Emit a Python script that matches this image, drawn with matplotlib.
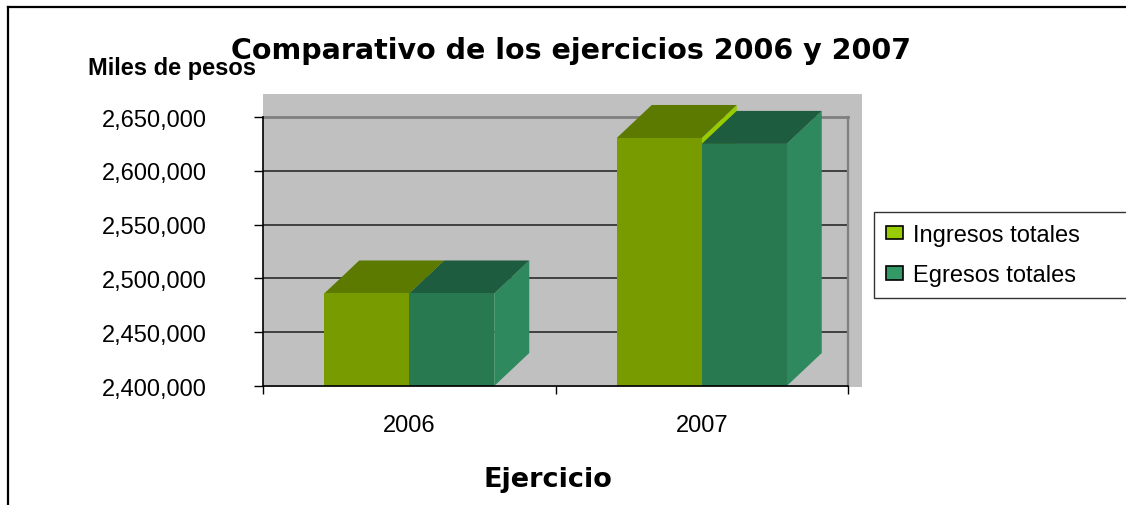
import matplotlib
matplotlib.use("Agg")
import matplotlib.pyplot as plt
from matplotlib.patches import Polygon, Rectangle, Patch
from matplotlib.lines import Line2D
from matplotlib.ticker import FuncFormatter

# ---- data ----
categories = ['2006', '2007']
series_names = ['Ingresos totales', 'Egresos totales']
ingresos = [2486000, 2630500]
egresos = [2486000, 2625000]
y_ticks = [2400000, 2450000, 2500000, 2550000, 2600000, 2650000]

# ---- styles ----
W, H = 1126, 506
ARIAL = 'Liberation Sans'
colors = {
    'Ingresos totales': dict(front='#789C00', top='#5C7A00', side='#99CC00', legend='#99CC00'),
    'Egresos totales': dict(front='#287850', top='#1E5C3F', side='#2E8A5E', legend='#339966'),
}

fig = plt.figure(figsize=(W / 100, H / 100), dpi=100)
fig.patch.set_facecolor('white')

def fx(px):
    return px / W

def fy(py):
    return 1 - py / H

# grey wall background
fig.add_artist(Rectangle((fx(263), fy(388)), fx(862) - fx(263), fy(95) - fy(388),
                         transform=fig.transFigure, facecolor='#C0C0C0',
                         edgecolor='none', zorder=0))

# outer frame (cropped at right/bottom)
fig.add_artist(Line2D([fx(8), fx(8)], [fy(8), 0], transform=fig.transFigure,
                      color='black', lw=1.6, zorder=1))
fig.add_artist(Line2D([fx(8), 1], [fy(8), fy(8)], transform=fig.transFigure,
                      color='black', lw=1.6, zorder=1))

ax = fig.add_axes([fx(263), fy(387), fx(848) - fx(263), fy(118) - fy(387)])
ax.set_facecolor('none')
ax.set_zorder(2)

ymin, ymax = y_ticks[0], y_ticks[-1]
ax.set_xlim(-0.5, len(categories) - 0.5)
ax.set_ylim(ymin, ymax)

# depth offset in data units (35 px right, 33 px up)
ax_w_px = 848 - 263
ax_h_px = 387 - 118
dx = 35 / ax_w_px * len(categories)
dy = 33 / ax_h_px * (ymax - ymin)
bar_w = 85 / ax_w_px * len(categories)

def draw_bar(x0, value, c):
    x1 = x0 + bar_w
    base = ymin
    side = Polygon([(x1, base), (x1, value), (x1 + dx, value + dy), (x1 + dx, base + dy)],
                   closed=True, facecolor=c['side'], edgecolor='none', zorder=3, clip_on=False)
    top = Polygon([(x0, value), (x1, value), (x1 + dx, value + dy), (x0 + dx, value + dy)],
                  closed=True, facecolor=c['top'], edgecolor='none', zorder=3, clip_on=False)
    front = Polygon([(x0, base), (x1, base), (x1, value), (x0, value)],
                    closed=True, facecolor=c['front'], edgecolor='none', zorder=3, clip_on=False)
    for p in (side, top, front):
        ax.add_patch(p)

for i, cat in enumerate(categories):
    draw_bar(i - bar_w, ingresos[i], colors['Ingresos totales'])
    draw_bar(i, egresos[i], colors['Egresos totales'])

# gridlines
for v in y_ticks[1:-1]:
    ax.axhline(v, color='#2b2b2b', lw=1.2, zorder=1)

# spines
ax.spines['left'].set_color('black')
ax.spines['left'].set_linewidth(1.2)
ax.spines['bottom'].set_color('black')
ax.spines['bottom'].set_linewidth(1.2)
ax.spines['bottom'].set_zorder(4)
ax.spines['top'].set_color('#808080')
ax.spines['top'].set_linewidth(2)
ax.spines['top'].set_zorder(1)
ax.spines['right'].set_color('#808080')
ax.spines['right'].set_linewidth(1.6)
ax.spines['right'].set_zorder(1)

# y ticks
ax.set_yticks(y_ticks)
ax.yaxis.set_major_formatter(FuncFormatter(lambda v, p: f'{int(v):,}'))
ax.tick_params(axis='y', direction='out', length=6.5, width=1, color='black',
               pad=34, labelsize=17, labelcolor='black')
for lab in ax.get_yticklabels():
    lab.set_fontfamily(ARIAL)

# x ticks: major at boundaries, labels at centers
ax.set_xticks([-0.5 + k for k in range(len(categories) + 1)])
ax.set_xticklabels([])
ax.set_xticks(list(range(len(categories))), minor=True)
ax.set_xticklabels(categories, minor=True, fontfamily=ARIAL, fontsize=17)
ax.tick_params(axis='x', which='major', direction='out', length=6, width=1, color='black')
ax.tick_params(axis='x', which='minor', length=0, pad=20)

# titles
fig.text(fx(571), fy(59), 'Comparativo de los ejercicios 2006 y 2007', ha='center',
         va='baseline', fontsize=20.5, fontweight='bold', family='DejaVu Sans')
fig.text(fx(88), fy(75), 'Miles de pesos', ha='left', va='baseline', fontsize=17,
         fontweight='bold', family=ARIAL)
fig.text(fx(548), fy(487), 'Ejercicio', ha='center', va='baseline', fontsize=19.5,
         fontweight='bold', family='DejaVu Sans')

# legend
handles = [Patch(facecolor=colors[n]['legend'], edgecolor='black', linewidth=1.2) for n in series_names]
leg = fig.legend(handles, series_names, loc='upper left',
                 bbox_to_anchor=(fx(874), fy(293), fx(1130) - fx(874), fy(213) - fy(293)),
                 mode='expand', borderaxespad=0, frameon=True, fancybox=False,
                 prop={'family': ARIAL, 'size': 17}, handlelength=0.72, handleheight=0.5,
                 handletextpad=0.42, labelspacing=0.78, borderpad=0.5)
leg.get_frame().set_edgecolor('black')
leg.get_frame().set_linewidth(1.0)

fig.savefig('out.png', dpi=100)
